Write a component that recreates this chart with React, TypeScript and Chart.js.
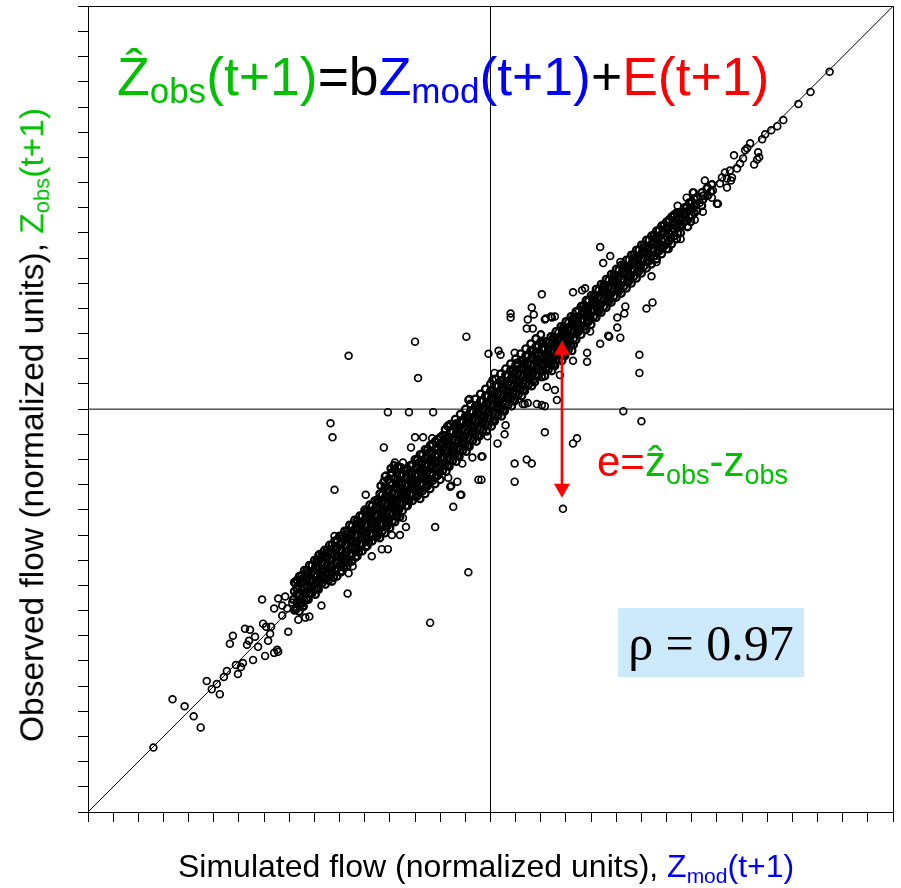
import React, { useEffect, useRef } from "react";
import { Chart, registerables } from "chart.js";

Chart.register(...registerables);

type P = [number, number];

// axis extent (normalized units) and tick spacing
const AXIS_MIN = -4;
const AXIS_MAX = 4;
const TICK_STEP = 0.25;

// sparse lower-left tail
const lowerTail: P[] = [
  [-3.35, -3.36], [-3.16, -2.88], [-3.04, -2.95], [-2.95, -3.05], [-2.88, -3.16], [-2.82, -2.7], [-2.77, -2.78],
  [-2.72, -2.73], [-2.69, -2.83], [-2.65, -2.66], [-2.62, -2.6], [-2.53, -2.54], [-2.51, -2.63], [-2.48, -2.56],
  [-2.46, -2.52], [-2.59, -2.33], [-2.56, -2.25], [-2.44, -2.18], [-2.39, -2.19], [-2.42, -2.34], [-2.4, -2.3],
  [-2.34, -2.26], [-2.31, -2.36], [-2.36, -2.49], [-2.26, -2.13], [-2.23, -2.16], [-2.21, -2.3], [-2.24, -2.45],
  [-2.18, -2.16], [-2.19, -2.23], [-2.15, -2.42], [-2.12, -2.39], [-2.11, -2.41], [-2.01, -2.21], [-2.27, -1.89],
  [-2.15, -1.98], [-2.11, -1.88], [-2.07, -1.95], [-2.04, -1.86], [-2.07, -2.05], [-2.02, -1.98], [-1.97, -1.92],
  [-1.95, -2.0], [-1.94, -1.73], [-1.89, -1.73], [-1.85, -1.72], [-1.91, -2.09], [-1.84, -2.07], [-1.8, -2.06],
  [-1.86, -1.95], [-1.79, -1.82], [-1.72, -1.77], [-1.68, -1.95], [-1.71, -1.45], [-1.66, -1.45], [-1.73, -1.53],
  [-1.67, -1.65], [-1.62, -1.68],
];

// dense band, lower part
const lowerBand: P[] = [
  [-1.95, -1.72], [-1.95, -1.81], [-1.96, -1.89], [-1.94, -1.99],
  [-1.9, -1.66], [-1.91, -1.75], [-1.9, -1.84], [-1.89, -1.93], [-1.9, -2.01],
  [-1.85, -1.6], [-1.86, -1.68], [-1.85, -1.77], [-1.84, -1.83], [-1.85, -1.9], [-1.86, -1.96],
  [-1.8, -1.55], [-1.81, -1.62], [-1.8, -1.7], [-1.79, -1.76], [-1.8, -1.83], [-1.81, -1.89],
  [-1.75, -1.5], [-1.74, -1.57], [-1.75, -1.64], [-1.76, -1.71], [-1.75, -1.78], [-1.74, -1.84],
  [-1.7, -1.44], [-1.71, -1.51], [-1.7, -1.58], [-1.69, -1.65], [-1.7, -1.72], [-1.71, -1.79],
  [-1.65, -1.4], [-1.64, -1.47], [-1.65, -1.54], [-1.66, -1.61], [-1.65, -1.68], [-1.64, -1.74],
  [-1.6, -1.35], [-1.61, -1.42], [-1.6, -1.49], [-1.59, -1.56], [-1.6, -1.63], [-1.61, -1.7],
  [-1.55, -1.31], [-1.56, -1.38], [-1.55, -1.45], [-1.54, -1.52], [-1.55, -1.59], [-1.56, -1.67],
  [-1.5, -1.26], [-1.49, -1.33], [-1.5, -1.4], [-1.51, -1.47], [-1.5, -1.55], [-1.49, -1.62],
  [-1.45, -1.21], [-1.46, -1.28], [-1.45, -1.35], [-1.44, -1.42], [-1.45, -1.49], [-1.46, -1.57],
  [-1.4, -1.15], [-1.41, -1.23], [-1.4, -1.3], [-1.39, -1.37], [-1.4, -1.44], [-1.41, -1.52],
  [-1.35, -1.1], [-1.34, -1.18], [-1.35, -1.25], [-1.36, -1.32], [-1.35, -1.39], [-1.34, -1.47],
  [-1.3, -1.06], [-1.31, -1.13], [-1.3, -1.2], [-1.29, -1.27], [-1.3, -1.34], [-1.31, -1.42],
  [-1.25, -1.0], [-1.24, -1.08], [-1.25, -1.15], [-1.26, -1.22], [-1.25, -1.29], [-1.24, -1.37],
  [-1.2, -0.95], [-1.21, -1.03], [-1.2, -1.1], [-1.19, -1.17], [-1.2, -1.24], [-1.21, -1.32],
  [-1.15, -0.91], [-1.14, -0.98], [-1.15, -1.05], [-1.16, -1.12], [-1.15, -1.19], [-1.14, -1.27],
  [-1.1, -0.84], [-1.11, -0.92], [-1.1, -0.99], [-1.09, -1.06], [-1.1, -1.14], [-1.11, -1.22], [-1.1, -1.28],
  [-1.05, -0.78], [-1.04, -0.86], [-1.05, -0.94], [-1.06, -1.01], [-1.05, -1.08], [-1.04, -1.16], [-1.05, -1.23],
  [-1.0, -0.73], [-1.01, -0.81], [-1.0, -0.89], [-0.99, -0.96], [-1.0, -1.03], [-1.01, -1.11], [-1.0, -1.18],
  [-0.95, -0.69], [-0.94, -0.77], [-0.95, -0.84], [-0.96, -0.91], [-0.95, -0.98], [-0.94, -1.06], [-0.95, -1.12],
  [-0.9, -0.65], [-0.91, -0.72], [-0.9, -0.79], [-0.89, -0.86], [-0.9, -0.93], [-0.91, -1.0], [-0.9, -1.07],
  [-0.85, -0.61], [-0.84, -0.68], [-0.85, -0.75], [-0.86, -0.82], [-0.85, -0.89], [-0.84, -0.96],
  [-0.8, -0.56], [-0.81, -0.63], [-0.8, -0.7], [-0.79, -0.77], [-0.8, -0.84], [-0.81, -0.91],
  [-0.75, -0.5], [-0.74, -0.58], [-0.75, -0.65], [-0.76, -0.72], [-0.75, -0.79], [-0.74, -0.87],
  [-0.7, -0.45], [-0.71, -0.53], [-0.7, -0.6], [-0.69, -0.67], [-0.7, -0.74], [-0.71, -0.82], [-0.7, -0.89],
  [-0.65, -0.4], [-0.64, -0.48], [-0.65, -0.55], [-0.66, -0.62], [-0.65, -0.69], [-0.64, -0.77], [-0.65, -0.84],
  [-0.6, -0.36], [-0.61, -0.43], [-0.6, -0.5], [-0.59, -0.57], [-0.6, -0.64], [-0.61, -0.72], [-0.6, -0.79],
  [-0.55, -0.32], [-0.54, -0.39], [-0.55, -0.46], [-0.56, -0.53], [-0.55, -0.6], [-0.54, -0.67], [-0.55, -0.74],
  [-0.5, -0.28], [-0.51, -0.35], [-0.5, -0.42], [-0.49, -0.49], [-0.5, -0.56], [-0.51, -0.63], [-0.5, -0.7],
];

// dense band, lower part (in-between columns)
const lowerBandFill: P[] = [
  [-1.925, -1.7], [-1.925, -1.78], [-1.925, -1.84], [-1.925, -1.92], [-1.925, -1.98],
  [-1.875, -1.65], [-1.875, -1.72], [-1.875, -1.8], [-1.875, -1.87], [-1.875, -1.93],
  [-1.825, -1.6], [-1.825, -1.68], [-1.825, -1.75], [-1.825, -1.81], [-1.825, -1.88],
  [-1.775, -1.55], [-1.775, -1.62], [-1.775, -1.7], [-1.775, -1.77], [-1.775, -1.83],
  [-1.725, -1.5], [-1.725, -1.57], [-1.725, -1.65], [-1.725, -1.72], [-1.725, -1.78],
  [-1.675, -1.45], [-1.675, -1.53], [-1.675, -1.6], [-1.675, -1.67], [-1.675, -1.73],
  [-1.625, -1.4], [-1.625, -1.48], [-1.625, -1.55], [-1.625, -1.62], [-1.625, -1.68],
  [-1.575, -1.35], [-1.575, -1.43], [-1.575, -1.5], [-1.575, -1.57], [-1.575, -1.63], [-1.575, -1.71],
  [-1.525, -1.3], [-1.525, -1.38], [-1.525, -1.45], [-1.525, -1.52], [-1.525, -1.58], [-1.525, -1.66],
  [-1.475, -1.26], [-1.475, -1.33], [-1.475, -1.4], [-1.475, -1.47], [-1.475, -1.54], [-1.475, -1.61],
  [-1.425, -1.21], [-1.425, -1.28], [-1.425, -1.35], [-1.425, -1.42], [-1.425, -1.49], [-1.425, -1.56],
  [-1.375, -1.16], [-1.375, -1.23], [-1.375, -1.3], [-1.375, -1.37], [-1.375, -1.44], [-1.375, -1.51],
  [-1.325, -1.11], [-1.325, -1.18], [-1.325, -1.25], [-1.325, -1.32], [-1.325, -1.39], [-1.325, -1.46],
  [-1.275, -1.06], [-1.275, -1.13], [-1.275, -1.2], [-1.275, -1.27], [-1.275, -1.34], [-1.275, -1.41],
  [-1.225, -1.01], [-1.225, -1.08], [-1.225, -1.15], [-1.225, -1.22], [-1.225, -1.29], [-1.225, -1.36],
  [-1.175, -0.96], [-1.175, -1.03], [-1.175, -1.1], [-1.175, -1.17], [-1.175, -1.24], [-1.175, -1.31],
  [-1.125, -0.9], [-1.125, -0.98], [-1.125, -1.05], [-1.125, -1.12], [-1.125, -1.19], [-1.125, -1.26],
  [-1.075, -0.85], [-1.075, -0.93], [-1.075, -1.0], [-1.075, -1.07], [-1.075, -1.14], [-1.075, -1.21],
  [-1.025, -0.8], [-1.025, -0.88], [-1.025, -0.95], [-1.025, -1.02], [-1.025, -1.09], [-1.025, -1.16],
  [-0.975, -0.75], [-0.975, -0.83], [-0.975, -0.9], [-0.975, -0.97], [-0.975, -1.04], [-0.975, -1.11],
  [-0.925, -0.7], [-0.925, -0.78], [-0.925, -0.85], [-0.925, -0.92], [-0.925, -0.99], [-0.925, -1.06],
  [-0.875, -0.65], [-0.875, -0.73], [-0.875, -0.8], [-0.875, -0.87], [-0.875, -0.94], [-0.875, -1.01],
  [-0.825, -0.6], [-0.825, -0.68], [-0.825, -0.75], [-0.825, -0.82], [-0.825, -0.89], [-0.825, -0.96],
  [-0.775, -0.55], [-0.775, -0.63], [-0.775, -0.7], [-0.775, -0.77], [-0.775, -0.84], [-0.775, -0.91],
  [-0.725, -0.5], [-0.725, -0.58], [-0.725, -0.65], [-0.725, -0.72], [-0.725, -0.79], [-0.725, -0.86],
  [-0.675, -0.45], [-0.675, -0.53], [-0.675, -0.6], [-0.675, -0.67], [-0.675, -0.74], [-0.675, -0.81],
  [-0.625, -0.4], [-0.625, -0.48], [-0.625, -0.55], [-0.625, -0.62], [-0.625, -0.69], [-0.625, -0.76],
  [-0.575, -0.35], [-0.575, -0.43], [-0.575, -0.5], [-0.575, -0.57], [-0.575, -0.64], [-0.575, -0.71],
  [-0.525, -0.3], [-0.525, -0.38], [-0.525, -0.45], [-0.525, -0.52], [-0.525, -0.59], [-0.525, -0.66],
  [-0.475, -0.26], [-0.475, -0.33], [-0.475, -0.4], [-0.475, -0.47], [-0.475, -0.54], [-0.475, -0.61],
  // bulge of the band around (-1, -0.6)
  [-1.02, -0.7], [-0.98, -0.63], [-0.95, -0.6], [-0.92, -0.57], [-0.89, -0.58], [-0.96, -0.56], [-0.93, -0.64],
  [-0.99, -0.59], [-1.06, -0.72], [-1.09, -0.76],
];

// dense band, around the origin
const centralBand: P[] = [
  [-0.45, -0.27], [-0.44, -0.34], [-0.45, -0.41], [-0.46, -0.48], [-0.45, -0.55], [-0.44, -0.62],
  [-0.4, -0.22], [-0.41, -0.29], [-0.4, -0.36], [-0.39, -0.43], [-0.4, -0.5], [-0.41, -0.57],
  [-0.35, -0.17], [-0.34, -0.24], [-0.35, -0.31], [-0.36, -0.38], [-0.35, -0.45], [-0.34, -0.52],
  [-0.3, -0.12], [-0.31, -0.19], [-0.3, -0.26], [-0.29, -0.33], [-0.3, -0.4], [-0.31, -0.47],
  [-0.25, -0.07], [-0.24, -0.14], [-0.25, -0.21], [-0.26, -0.28], [-0.25, -0.35], [-0.24, -0.42],
  [-0.2, -0.02], [-0.21, -0.09], [-0.2, -0.16], [-0.19, -0.23], [-0.2, -0.3], [-0.21, -0.37],
  [-0.15, 0.03], [-0.14, -0.04], [-0.15, -0.11], [-0.16, -0.18], [-0.15, -0.25], [-0.14, -0.32],
  [-0.1, 0.08], [-0.11, 0.01], [-0.1, -0.06], [-0.09, -0.13], [-0.1, -0.2], [-0.11, -0.27],
  [-0.05, 0.13], [-0.04, 0.06], [-0.05, -0.01], [-0.06, -0.08], [-0.05, -0.15], [-0.04, -0.22],
  [0.0, 0.18], [0.01, 0.11], [0.0, 0.04], [-0.01, -0.03], [0.0, -0.1], [0.01, -0.17],
  [0.05, 0.23], [0.04, 0.16], [0.05, 0.09], [0.06, 0.02], [0.05, -0.05], [0.04, -0.12],
  [0.1, 0.28], [0.11, 0.21], [0.1, 0.14], [0.09, 0.07], [0.1, 0.0], [0.11, -0.07],
  [0.15, 0.34], [0.14, 0.26], [0.15, 0.19], [0.16, 0.12], [0.15, 0.05], [0.14, -0.02],
  [0.2, 0.39], [0.21, 0.31], [0.2, 0.24], [0.19, 0.17], [0.2, 0.1], [0.21, 0.03],
  [0.25, 0.44], [0.24, 0.36], [0.25, 0.29], [0.26, 0.22], [0.25, 0.15], [0.24, 0.08],
  [0.3, 0.48], [0.31, 0.41], [0.3, 0.34], [0.29, 0.27], [0.3, 0.2], [0.31, 0.13],
  [0.35, 0.53], [0.34, 0.46], [0.35, 0.39], [0.36, 0.32], [0.35, 0.25], [0.34, 0.18],
  [0.4, 0.58], [0.41, 0.51], [0.4, 0.44], [0.39, 0.37], [0.4, 0.3], [0.41, 0.23],
  [0.45, 0.62], [0.44, 0.55], [0.45, 0.48], [0.46, 0.41], [0.45, 0.34], [0.44, 0.27],
  [0.5, 0.67], [0.51, 0.6], [0.5, 0.53], [0.49, 0.46], [0.5, 0.39], [0.51, 0.32],
];

// dense band around the origin (in-between columns and upper edge)
const centralBandFill: P[] = [
  [-0.425, -0.28], [-0.425, -0.35], [-0.425, -0.42], [-0.425, -0.49], [-0.425, -0.56],
  [-0.375, -0.23], [-0.375, -0.3], [-0.375, -0.37], [-0.375, -0.44], [-0.375, -0.51],
  [-0.325, -0.18], [-0.325, -0.25], [-0.325, -0.32], [-0.325, -0.39], [-0.325, -0.46],
  [-0.275, -0.13], [-0.275, -0.2], [-0.275, -0.27], [-0.275, -0.34], [-0.275, -0.41],
  [-0.225, -0.08], [-0.225, -0.15], [-0.225, -0.22], [-0.225, -0.29], [-0.225, -0.36],
  [-0.175, -0.03], [-0.175, -0.1], [-0.175, -0.17], [-0.175, -0.24], [-0.175, -0.31],
  [-0.125, 0.03], [-0.125, -0.05], [-0.125, -0.12], [-0.125, -0.19], [-0.125, -0.26],
  [-0.075, 0.08], [-0.075, 0.0], [-0.075, -0.07], [-0.075, -0.14], [-0.075, -0.21],
  [-0.025, 0.13], [-0.025, 0.05], [-0.025, -0.02], [-0.025, -0.09], [-0.025, -0.16],
  [0.025, 0.18], [0.025, 0.1], [0.025, 0.03], [0.025, -0.04], [0.025, -0.11],
  [0.075, 0.23], [0.075, 0.15], [0.075, 0.08], [0.075, 0.01], [0.075, -0.06],
  [0.125, 0.28], [0.125, 0.2], [0.125, 0.13], [0.125, 0.06], [0.125, -0.01],
  [0.175, 0.33], [0.175, 0.25], [0.175, 0.18], [0.175, 0.11], [0.175, 0.04],
  [0.225, 0.38], [0.225, 0.3], [0.225, 0.23], [0.225, 0.16], [0.225, 0.09],
  [0.275, 0.43], [0.275, 0.35], [0.275, 0.28], [0.275, 0.21], [0.275, 0.14],
  [0.325, 0.48], [0.325, 0.4], [0.325, 0.33], [0.325, 0.26], [0.325, 0.19],
  [0.375, 0.53], [0.375, 0.45], [0.375, 0.38], [0.375, 0.31], [0.375, 0.24],
  [0.425, 0.58], [0.425, 0.5], [0.425, 0.43], [0.425, 0.36], [0.425, 0.29],
  [0.475, 0.63], [0.475, 0.55], [0.475, 0.48], [0.475, 0.41], [0.475, 0.34],
  [0.525, 0.66], [0.525, 0.59], [0.525, 0.52], [0.525, 0.45], [0.525, 0.38],
  [-0.45, -0.2], [-0.4, -0.15], [-0.35, -0.1], [-0.3, -0.05], [-0.25, 0.0], [-0.2, 0.05], [-0.15, 0.1],
  [-0.1, 0.15], [-0.05, 0.2], [0.0, 0.25], [0.05, 0.3], [0.1, 0.35], [0.15, 0.4], [0.2, 0.45], [0.25, 0.5],
  [0.3, 0.55], [0.35, 0.6], [0.4, 0.65], [0.45, 0.7], [0.5, 0.74],
];

// dense band, upper part
const upperBand: P[] = [
  [0.55, 0.67], [0.54, 0.6], [0.55, 0.53], [0.56, 0.46], [0.55, 0.39], [0.54, 0.33],
  [0.6, 0.72], [0.61, 0.65], [0.6, 0.58], [0.59, 0.51], [0.6, 0.44], [0.61, 0.38],
  [0.65, 0.77], [0.64, 0.7], [0.65, 0.63], [0.66, 0.56], [0.65, 0.49], [0.64, 0.43],
  [0.7, 0.82], [0.71, 0.75], [0.7, 0.68], [0.69, 0.61], [0.7, 0.54], [0.71, 0.48],
  [0.75, 0.87], [0.74, 0.8], [0.75, 0.73], [0.76, 0.66], [0.75, 0.59], [0.74, 0.53],
  [0.8, 0.92], [0.81, 0.85], [0.8, 0.78], [0.79, 0.71], [0.8, 0.64], [0.81, 0.58],
  [0.85, 0.97], [0.84, 0.9], [0.85, 0.83], [0.86, 0.76], [0.85, 0.69],
  [0.9, 1.02], [0.91, 0.95], [0.9, 0.88], [0.89, 0.81], [0.9, 0.74],
  [0.95, 1.08], [0.94, 1.0], [0.95, 0.93], [0.96, 0.86], [0.95, 0.79],
  [1.0, 1.13], [1.01, 1.05], [1.0, 0.98], [0.99, 0.91], [1.0, 0.84],
  [1.05, 1.19], [1.04, 1.12], [1.05, 1.05], [1.06, 0.98], [1.05, 0.91],
  [1.1, 1.24], [1.11, 1.17], [1.1, 1.1], [1.09, 1.03], [1.1, 0.96],
  [1.15, 1.29], [1.14, 1.22], [1.15, 1.15], [1.16, 1.08], [1.15, 1.01],
  [1.2, 1.34], [1.21, 1.27], [1.2, 1.2], [1.19, 1.13], [1.2, 1.06],
  [1.25, 1.39], [1.24, 1.32], [1.25, 1.25], [1.26, 1.18], [1.25, 1.11],
  [1.3, 1.43], [1.31, 1.36], [1.3, 1.29], [1.29, 1.22], [1.3, 1.15],
  [1.35, 1.48], [1.34, 1.41], [1.35, 1.34], [1.36, 1.27], [1.35, 1.2],
  [1.4, 1.53], [1.41, 1.46], [1.4, 1.39], [1.39, 1.32], [1.4, 1.25],
  [1.45, 1.58], [1.44, 1.51], [1.45, 1.44], [1.46, 1.37], [1.45, 1.3],
  [1.5, 1.63], [1.51, 1.56], [1.5, 1.49], [1.49, 1.42], [1.5, 1.35],
  [1.55, 1.68], [1.54, 1.61], [1.55, 1.54], [1.56, 1.47], [1.55, 1.4],
  [1.6, 1.72], [1.61, 1.65], [1.6, 1.58], [1.59, 1.51], [1.6, 1.44],
  [1.65, 1.77], [1.64, 1.7], [1.65, 1.63], [1.66, 1.56], [1.65, 1.49],
  [1.7, 1.82], [1.71, 1.75], [1.7, 1.68], [1.69, 1.61], [1.7, 1.54],
  [1.75, 1.86], [1.74, 1.79], [1.75, 1.72], [1.76, 1.65], [1.75, 1.59],
  [1.8, 1.91], [1.81, 1.84], [1.8, 1.77], [1.79, 1.7], [1.8, 1.64],
  [1.85, 1.95], [1.84, 1.88], [1.85, 1.81], [1.86, 1.75], [1.85, 1.69],
  [1.9, 1.96], [1.91, 1.89], [1.9, 1.82], [1.89, 1.75],
  [1.95, 2.01], [1.94, 1.94], [1.95, 1.87], [1.96, 1.81],
  [2.0, 2.06], [2.01, 1.99], [2.0, 1.92], [1.99, 1.86],
  [2.05, 2.1], [2.04, 2.03], [2.05, 1.97],
  [2.1, 2.15], [2.11, 2.08], [2.1, 2.02],
  [2.15, 2.19], [2.16, 2.12],
  [2.2, 2.23], [2.19, 2.16],
];

// dense band, upper part (in-between columns)
const upperBandFill: P[] = [
  [0.575, 0.66], [0.575, 0.59], [0.575, 0.52], [0.575, 0.45], [0.575, 0.39],
  [0.625, 0.71], [0.625, 0.64], [0.625, 0.57], [0.625, 0.5], [0.625, 0.44],
  [0.675, 0.76], [0.675, 0.69], [0.675, 0.62], [0.675, 0.55], [0.675, 0.49],
  [0.725, 0.81], [0.725, 0.74], [0.725, 0.67], [0.725, 0.6], [0.725, 0.54],
  [0.775, 0.86], [0.775, 0.79], [0.775, 0.72], [0.775, 0.65], [0.775, 0.59],
  [0.825, 0.91], [0.825, 0.84], [0.825, 0.77], [0.825, 0.7], [0.825, 0.64],
  [0.875, 0.98], [0.875, 0.91], [0.875, 0.84], [0.875, 0.77],
  [0.925, 1.03], [0.925, 0.96], [0.925, 0.89], [0.925, 0.82],
  [0.975, 1.08], [0.975, 1.01], [0.975, 0.94], [0.975, 0.87],
  [1.025, 1.13], [1.025, 1.06], [1.025, 0.99], [1.025, 0.92],
  [1.075, 1.18], [1.075, 1.11], [1.075, 1.04], [1.075, 0.97],
  [1.125, 1.23], [1.125, 1.16], [1.125, 1.09], [1.125, 1.02],
  [1.175, 1.28], [1.175, 1.21], [1.175, 1.14], [1.175, 1.07],
  [1.225, 1.33], [1.225, 1.26], [1.225, 1.19], [1.225, 1.12],
  [1.275, 1.38], [1.275, 1.31], [1.275, 1.24], [1.275, 1.17],
  [1.325, 1.43], [1.325, 1.36], [1.325, 1.29], [1.325, 1.22],
  [1.375, 1.48], [1.375, 1.41], [1.375, 1.34], [1.375, 1.27],
  [1.425, 1.53], [1.425, 1.46], [1.425, 1.39], [1.425, 1.32],
  [1.475, 1.58], [1.475, 1.51], [1.475, 1.44], [1.475, 1.37],
  [1.525, 1.63], [1.525, 1.56], [1.525, 1.49], [1.525, 1.42],
  [1.575, 1.68], [1.575, 1.61], [1.575, 1.54], [1.575, 1.47],
  [1.625, 1.73], [1.625, 1.66], [1.625, 1.59], [1.625, 1.52],
  [1.675, 1.78], [1.675, 1.71], [1.675, 1.64], [1.675, 1.57],
  [1.725, 1.83], [1.725, 1.76], [1.725, 1.69], [1.725, 1.62],
  [1.775, 1.88], [1.775, 1.81], [1.775, 1.74], [1.775, 1.67],
  [1.825, 1.93], [1.825, 1.86], [1.825, 1.79], [1.825, 1.72],
  [1.875, 1.95], [1.875, 1.88], [1.875, 1.81],
  [1.925, 2.0], [1.925, 1.93], [1.925, 1.86],
  [1.975, 2.05], [1.975, 1.98], [1.975, 1.91],
  [2.025, 2.09], [2.025, 2.02], [2.025, 1.95],
];

// sparse upper-right tail
const upperTail: P[] = [
  [3.37, 3.35], [3.18, 3.15], [3.06, 3.03], [2.91, 2.87], [2.85, 2.81], [2.79, 2.77], [2.73, 2.73], [2.7, 2.68],
  [2.58, 2.64], [2.55, 2.59], [2.53, 2.57], [2.42, 2.52], [2.51, 2.49], [2.66, 2.55], [2.67, 2.5], [2.65, 2.48],
  [2.62, 2.43], [2.48, 2.44], [2.45, 2.39], [2.38, 2.37], [2.33, 2.35], [2.3, 2.3], [2.35, 2.29], [2.4, 2.3],
  [2.35, 2.2], [2.28, 2.24], [2.13, 2.27], [2.16, 2.2], [2.21, 2.17], [2.01, 2.15], [2.12, 2.12], [2.2, 2.1],
  [2.25, 2.04], [2.08, 2.05], [1.95, 2.1], [1.93, 2.0], [2.39, 2.27], [2.26, 2.04], [2.11, 1.96], [2.03, 1.88],
];

// scattered points away from the band
const outliers: P[] = [
  [-1.02, -0.03], [-0.81, -0.03], [-0.57, -0.03], [-1.59, -0.14], [-1.57, -0.28], [-1.06, -0.38], [-1.55, -0.8],
  [-1.24, -0.85], [-1.04, -0.66], [-0.95, -0.53], [-0.87, -0.53], [-0.79, -0.38], [-0.75, -0.28], [-0.67, -0.28],
  [-0.58, -0.29], [-0.42, -0.16], [-0.34, -0.14], [-0.12, -0.7], [-0.29, -0.85], [-0.37, -0.97], [-0.39, -0.76],
  [-0.33, -0.72], [-0.09, -0.47], [-0.28, -0.54], [-0.55, -1.17], [-0.22, -1.62], [-1.42, -1.83], [-1.55, -1.26],
  [-0.98, -1.25], [-0.9, -1.25], [-0.84, -1.17], [-0.87, -1.08], [-1.25, -1.02], [-1.18, -1.46], [-1.08, -1.39],
  [-1.02, -1.39], [-1.55, -1.37], [-1.37, -1.56], [-1.41, -1.63],
  [-0.75, 0.67], [-0.72, 0.31], [-0.24, 0.72], [-0.22, 0.09], [-0.02, 0.55], [0.08, 0.58], [0.1, 0.54], [0.2, 0.95],
  [0.2, 0.91], [0.37, 0.89], [0.36, 0.8], [0.42, 0.8], [0.41, 1.01], [0.43, 0.94], [0.54, 0.89], [0.61, 0.91],
  [0.64, 0.92], [0.04, 0.36], [0.02, 0.29], [0.26, 0.46], [0.24, 0.56], [0.34, 0.05], [0.46, 0.05], [0.54, 0.03],
  [0.56, 0.22], [0.64, 0.19], [0.54, -0.23], [0.86, -0.29], [0.82, -0.34], [0.36, -0.5], [0.41, -0.54], [0.24, -0.54],
  [0.24, -0.72], [0.15, -0.16], [0.14, -0.25], [0.07, -0.34], [0.96, 0.56], [0.96, 0.47], [0.82, 0.48], [0.87, 0.78],
  [0.99, 0.77], [-1.05, -0.67], [-0.42, -0.68], [-0.3, -0.85], [-0.4, -0.77], [-0.03, -0.27], [-0.18, -0.48],
  [-0.43, -0.17], [-0.33, -0.15], [-0.21, 0.1], [0.32, 0.05],
  [1.48, 0.54], [1.48, 0.36], [1.32, -0.02], [1.5, -0.12], [0.72, -0.99], [1.09, 0.65], [1.29, 0.71], [1.17, 0.73],
  [0.69, 0.34], [0.66, 0.09], [0.37, 0.06], [0.51, 0.04], [-0.08, -0.47], [-0.09, -0.7],
  [1.09, 1.61], [1.12, 1.45], [1.19, 1.52], [1.29, 1.46], [0.51, 1.14], [0.82, 1.16], [0.91, 1.18], [0.94, 1.2],
  [0.55, 0.9], [0.6, 0.92], [1.6, 1.32], [1.55, 1.0], [1.61, 1.06], [1.34, 1.02], [1.33, 0.95], [1.26, 0.91],
  [1.26, 0.81], [1.18, 0.72], [1.65, 1.46], [1.77, 1.59], [1.89, 1.69], [1.86, 2.02], [2.02, 2.15], [2.11, 2.12],
  [1.77, 1.86],
  [-1.41, 0.53], [-0.6, -2.12],
];

// reference lines
const identityLine: P[] = [[AXIS_MIN, AXIS_MIN], [AXIS_MAX, AXIS_MAX]];
const zeroObsLine: P[] = [[AXIS_MIN, 0], [AXIS_MAX, 0]];
const zeroModLine: P[] = [[0, AXIS_MIN], [0, AXIS_MAX]];

// error arrow (data units)
const arrowX = 0.71;
const arrowTop = 0.68;
const arrowBottom = -0.88;

const GREEN = "#00c000";
const BLUE = "#0000ff";
const RED = "#ff0000";

const toXY = (arr: P[]) => arr.map(([x, y]) => ({ x, y }));

const framePlugin = {
  id: "frameAndArrow",
  beforeDatasetsDraw(chart: any) {
    const { ctx, chartArea: a } = chart;
    ctx.save();
    ctx.strokeStyle = "#000";
    ctx.lineWidth = 1;
    ctx.strokeRect(Math.round(a.left) + 0.5, Math.round(a.top) + 0.5, Math.round(a.right - a.left), Math.round(a.bottom - a.top));
    ctx.restore();
  },
  afterDatasetsDraw(chart: any) {
    const { ctx } = chart;
    const xs = chart.scales.x;
    const ys = chart.scales.y;
    const px = xs.getPixelForValue(arrowX);
    const top = ys.getPixelForValue(arrowTop);
    const bot = ys.getPixelForValue(arrowBottom);
    const headH = 14;
    const headW = 8;
    ctx.save();
    ctx.strokeStyle = RED;
    ctx.fillStyle = RED;
    ctx.lineWidth = 2.6;
    ctx.beginPath();
    ctx.moveTo(px, top + headH - 1);
    ctx.lineTo(px, bot - headH + 1);
    ctx.stroke();
    ctx.beginPath();
    ctx.moveTo(px, top);
    ctx.lineTo(px - headW, top + headH);
    ctx.lineTo(px + headW, top + headH);
    ctx.closePath();
    ctx.fill();
    ctx.beginPath();
    ctx.moveTo(px, bot);
    ctx.lineTo(px - headW, bot - headH);
    ctx.lineTo(px + headW, bot - headH);
    ctx.closePath();
    ctx.fill();
    ctx.restore();
  },
};

const Sub = ({ children, size, shift }: { children: any; size: number; shift: number }) => (
  <span style={{ fontSize: size, position: "relative", top: shift }}>{children}</span>
);

export default function App() {
  const ref = useRef<HTMLCanvasElement>(null);

  useEffect(() => {
    const bandPoints = [
      ...lowerBand, ...lowerBandFill, ...centralBand, ...centralBandFill, ...upperBand, ...upperBandFill,
    ];
    const loosePoints = [...lowerTail, ...upperTail, ...outliers];
    const pointDs = (label: string, d: P[], width: number) =>
      ({
        label,
        data: toXY(d),
        pointStyle: "circle",
        pointRadius: 3.4,
        borderWidth: width,
        pointBorderWidth: width,
        borderColor: "#000",
        pointBorderColor: "#000",
        backgroundColor: "rgba(0,0,0,0)",
        pointBackgroundColor: "rgba(0,0,0,0)",
      }) as any;
    const lineDs = (label: string, d: P[]) => ({
      label,
      data: toXY(d),
      showLine: true,
      borderColor: "#000",
      borderWidth: 1,
      pointRadius: 0,
      fill: false,
    });
    const axis = {
      type: "linear" as const,
      min: AXIS_MIN,
      max: AXIS_MAX,
      ticks: { display: false, stepSize: TICK_STEP, maxTicksLimit: 100 },
      grid: { display: true, drawOnChartArea: false, drawTicks: true, tickLength: 10, color: "#000", lineWidth: 1 },
      border: { display: true, color: "#000", width: 1 },
    };
    const chart = new Chart(ref.current as HTMLCanvasElement, {
      type: "scatter",
      data: {
        datasets: [
          pointDs("Observed vs simulated (scattered)", loosePoints, 1.7),
          pointDs("Observed vs simulated (dense)", bandPoints, 2.3),
          lineDs("1:1", identityLine),
          lineDs("zero obs", zeroObsLine),
          lineDs("zero mod", zeroModLine),
        ],
      },
      options: {
        responsive: false,
        animation: false,
        events: [],
        layout: { padding: { left: 78, right: 8, top: 6, bottom: 66 } },
        plugins: { legend: { display: false }, tooltip: { enabled: false }, title: { display: false } },
        scales: { x: axis as any, y: axis as any },
      },
      plugins: [framePlugin],
    });
    return () => chart.destroy();
  }, []);

  const sans = '"Liberation Sans", Arial, Helvetica, sans-serif';

  return (
    <div style={{ position: "fixed", left: 0, top: 0, width: 901, height: 888, background: "#fff", fontFamily: sans, overflow: "hidden" }}>
      <canvas ref={ref} width={901} height={888} style={{ position: "absolute", left: 0, top: 0, width: 901, height: 888 }} />

      {/* equation */}
      <div style={{ position: "absolute", left: 117, top: 50, fontSize: 53.5, lineHeight: 1, whiteSpace: "nowrap" }}>
        <span style={{ color: GREEN }}>Ẑ<Sub size={35} shift={8}>obs</Sub>(t+1)</span>
        <span style={{ color: "#000" }}>=b</span>
        <span style={{ color: BLUE }}>Z<Sub size={35} shift={8}>mod</Sub>(t+1)</span>
        <span style={{ color: "#000" }}>+</span>
        <span style={{ color: RED }}>E(t+1)</span>
      </div>

      {/* error label */}
      <div style={{ position: "absolute", left: 597, top: 441, fontSize: 42, lineHeight: 1, whiteSpace: "nowrap" }}>
        <span style={{ color: RED }}>e=</span>
        <span style={{ color: GREEN }}>ẑ<Sub size={27} shift={8}>obs</Sub>-z<Sub size={27} shift={8}>obs</Sub></span>
      </div>

      {/* correlation box */}
      <div
        style={{
          position: "absolute",
          left: 618,
          top: 608,
          width: 186,
          height: 69,
          background: "#cdeafc",
          display: "flex",
          alignItems: "center",
          justifyContent: "center",
          fontFamily: '"Liberation Serif", "Times New Roman", serif',
          fontSize: 50,
          lineHeight: 1,
          whiteSpace: "nowrap",
          color: "#000",
        }}
      >
        ρ = 0.97
      </div>

      {/* x-axis title */}
      <div style={{ position: "absolute", left: 178, top: 850, fontSize: 32, lineHeight: 1, whiteSpace: "nowrap", color: "#000" }}>
        Simulated flow (normalized units),{" "}
        <span style={{ color: BLUE }}>Z<Sub size={21} shift={6}>mod</Sub>(t+1)</span>
      </div>

      {/* y-axis title */}
      <div
        style={{
          position: "absolute",
          left: 32,
          top: 425,
          transform: "translate(-50%, -50%) rotate(-90deg)",
          fontSize: 33.5,
          lineHeight: 1,
          whiteSpace: "nowrap",
          color: "#000",
        }}
      >
        Observed flow (normalized units),{" "}
        <span style={{ color: GREEN }}>Z<Sub size={22} shift={6}>obs</Sub>(t+1)</span>
      </div>
    </div>
  );
}
